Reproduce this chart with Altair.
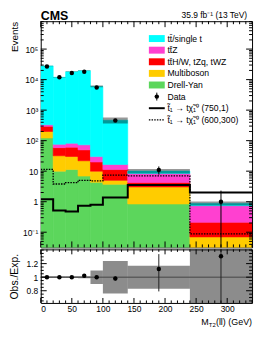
import altair as alt
import pandas as pd

# ---------------- data ----------------
bin_lo = [0, 20, 40, 60, 80, 100, 140, 240]
bin_hi = [20, 40, 60, 80, 100, 140, 240, 340]
bin_mid = [10, 30, 50, 70, 90, 120, 190, 290]

process_names = ["tt̄/single t", "tt̄Z", "tt̄H/W, tZq, tWZ", "Multiboson", "Drell-Yan"]
process_colors = ["#00FFFF", "#FF40D0", "#FF0000", "#FFCC00", "#5CD65C"]

ttbar = [27700, 11900, 17900, 19400, 5970, 450, 1.7, 0.14]
ttz = [39, 17, 21, 23, 10, 5.2, 4.1, 0.53]
ttx = [94, 27, 31, 28, 10, 6.3, 1.2, 0.14]
multiboson = [78, 22, 19, 15, 5.7, 1.3, 2.2, 0.05]
drellyan = [122, 10, 11.3, 6.9, 4.3, 3.7, 0.84, 0.02]

data_obs = [27000, 12000, 16500, 18000, 5500, 460, 11, 1.0]
data_lo = [26800, 11900, 16400, 17900, 5430, 440, 7.7, 0.001]
data_hi = [27200, 12100, 16600, 18100, 5570, 480, 14.3, 2.3]

sig_750_1 = [1.2, 0.51, 0.48, 0.74, 0.8, 1.38, 3.5, 2.0]
sig_600_300 = [11.4, 3.8, 4.2, 5.0, 4.8, 7.4, 7.0, 0.088]

unc_upper = [0.02, 0.02, 0.02, 0.02, 0.06, 0.22, 0.17, 0.15]

ratio = [1.0, 1.0, 1.0, 1.02, 1.0, 0.98, 1.12, 1.31]
ratio_lo = [0.995, 0.995, 0.995, 1.015, 0.99, 0.95, 0.79, 0.3]
ratio_hi = [1.005, 1.005, 1.005, 1.025, 1.01, 1.01, 1.34, 2.0]
ratio_unc = [0.012, 0.012, 0.012, 0.015, 0.1, 0.24, 0.17, 0.5]

legend_labels = process_names + ["Data", "t̃₁ → tχ̃₁⁰ (750,1)", "t̃₁ → tχ̃₁⁰ (600,300)"]
y_major = [0.1, 1, 10, 100, 1000, 10000, 100000]
y_major_labels = ["10⁻¹", "1", "10", "10²", "10³", "10⁴", "10⁵"]
x_major = [0, 50, 100, 150, 200, 250, 300]
r_major = [0.8, 1.0, 1.2]

# ---------------- layout constants ----------------
W = 213
H1 = 228
H2 = 54
FONT = "Liberation Sans"
Y_DOMAIN = [0.0318, 8.2e5]
R_DOMAIN = [0.62, 1.41]
X_DOMAIN = [0, 340]

y_minor = [m * 10 ** k for k in range(-2, 6) for m in range(2, 10)
           if Y_DOMAIN[0] <= m * 10 ** k <= Y_DOMAIN[1]]
x_minor = [v for v in range(0, 341, 10) if v not in x_major]
r_minor = [round(0.65 + 0.05 * i, 2) for i in range(16)]
r_minor = [v for v in r_minor if v not in r_major]

xs = alt.Scale(domain=X_DOMAIN, nice=False, zero=False)
ys = alt.Scale(type="log", domain=Y_DOMAIN, nice=False)
rs = alt.Scale(domain=R_DOMAIN, nice=False, zero=False)

# ---------------- tables ----------------
stack_rows = []
bottom_first = [(process_names[4], drellyan), (process_names[3], multiboson),
                (process_names[2], ttx), (process_names[1], ttz), (process_names[0], ttbar)]
cum = [0.0] * len(bin_lo)
for name, vals in bottom_first:
    for i in range(len(bin_lo)):
        y0 = cum[i] if cum[i] > 0 else 1e-4
        y1 = cum[i] + vals[i]
        stack_rows.append(dict(process=name, lo=bin_lo[i], hi=bin_hi[i], y0=y0, y1=y1))
        cum[i] = y1
stack_df = pd.DataFrame(stack_rows)
total = cum

bins_df = pd.DataFrame(dict(
    lo=bin_lo, hi=bin_hi, mid=bin_mid, obs=data_obs, obs_lo=data_lo, obs_hi=data_hi,
    tot=total,
    tot_dn=[t * (1 - u) for t, u in zip(total, unc_upper)],
    tot_up=[t * (1 + u) for t, u in zip(total, unc_upper)],
    ratio=ratio, r_lo=ratio_lo, r_hi=ratio_hi,
    band_dn=[1 - u for u in ratio_unc], band_up=[1 + u for u in ratio_unc],
))

step_df = pd.DataFrame(dict(
    x=bin_lo + [bin_hi[-1]],
    s1=sig_750_1 + [sig_750_1[-1]],
    s2=sig_600_300 + [sig_600_300[-1]],
))
one = pd.DataFrame({"a": [0]})

label_expr = "[" + ",".join("'%s'" % s for s in y_major_labels) + "][round(log(datum.value)/LN10)+1]"
proc_scale = alt.Scale(domain=process_names, range=process_colors)


def x_ticks(values, scale, y0, y1):
    return alt.Chart(pd.DataFrame({"v": values})).mark_rule(color="black", strokeWidth=1).encode(
        x=alt.X("v:Q", scale=scale, axis=None), y=alt.value(y0), y2=alt.value(y1))


def y_ticks(values, scale, x0, x1):
    return alt.Chart(pd.DataFrame({"v": values})).mark_rule(color="black", strokeWidth=1).encode(
        y=alt.Y("v:Q", scale=scale, axis=None), x=alt.value(x0), x2=alt.value(x1))


# ---------------- upper panel ----------------
rects = alt.Chart(stack_df).mark_rect(clip=True, strokeWidth=0.6).encode(
    x=alt.X("lo:Q", scale=xs, axis=None), x2="hi:Q",
    y=alt.Y("y0:Q", scale=ys, axis=None), y2="y1:Q",
    fill=alt.Fill("process:N", scale=proc_scale, legend=None),
    stroke=alt.Stroke("process:N", scale=proc_scale, legend=None),
)
hatch = alt.Chart(bins_df).mark_rect(clip=True, color="black", opacity=0.4).encode(
    x=alt.X("lo:Q", scale=xs, axis=None), x2="hi:Q",
    y=alt.Y("tot_dn:Q", scale=ys, axis=None), y2="tot_up:Q",
)
sig1 = alt.Chart(step_df).mark_line(interpolate="step-after", clip=True, color="black", strokeWidth=2).encode(
    x=alt.X("x:Q", scale=xs, axis=None), y=alt.Y("s1:Q", scale=ys, axis=None))
sig2 = alt.Chart(step_df).mark_line(interpolate="step-after", clip=True, color="black", strokeWidth=1.3,
                                    strokeDash=[1.5, 1.2]).encode(
    x=alt.X("x:Q", scale=xs, axis=None), y=alt.Y("s2:Q", scale=ys, axis=None))
errs = alt.Chart(bins_df).mark_rule(clip=True, color="black", strokeWidth=1).encode(
    x=alt.X("mid:Q", scale=xs, axis=None),
    y=alt.Y("obs_lo:Q", scale=ys, axis=None), y2="obs_hi:Q")
pts = alt.Chart(bins_df).mark_circle(clip=True, color="black", opacity=1, size=20).encode(
    x=alt.X("mid:Q", scale=xs, axis=None),
    y=alt.Y("obs:Q", scale=ys, axis=alt.Axis(
        orient="left", values=y_major, labelExpr=label_expr, labelPadding=3, ticks=False, domain=False,
        grid=False, title="Events", titleAngle=270, titleX=-21, titleY=0, titleAlign="right",
        titleBaseline="bottom", titleFontSize=10)))

up_ticks = [
    x_ticks(x_major, xs, 0, 6), x_ticks(x_minor, xs, 0, 3),
    x_ticks(x_major, xs, H1 - 6, H1), x_ticks(x_minor, xs, H1 - 3, H1),
    y_ticks(y_major, ys, 0, 6), y_ticks(y_minor, ys, 0, 3),
    y_ticks(y_major, ys, W - 6, W), y_ticks(y_minor, ys, W - 3, W),
]

# legend
L_X0, L_X1, L_TX = 109, 125, 127.7
L_Y0, L_STEP = 17.5, 11.7
leg = []
for i, lab in enumerate(legend_labels):
    yc = L_Y0 + i * L_STEP
    if i < len(process_names):
        leg.append(alt.Chart(one).mark_rect(color=process_colors[i]).encode(
            x=alt.value(L_X0), x2=alt.value(L_X1), y=alt.value(yc - 3.5), y2=alt.value(yc + 3.5)))
    elif i == len(process_names):
        xc = (L_X0 + L_X1) / 2
        leg.append(alt.Chart(one).mark_rule(color="black").encode(
            x=alt.value(xc), y=alt.value(yc - 4), y2=alt.value(yc + 4)))
        leg.append(alt.Chart(one).mark_circle(color="black", opacity=1, size=20).encode(
            x=alt.value(xc), y=alt.value(yc)))
    elif i == len(process_names) + 1:
        leg.append(alt.Chart(one).mark_rule(color="black", strokeWidth=2).encode(
            x=alt.value(L_X0), x2=alt.value(L_X1), y=alt.value(yc)))
    else:
        leg.append(alt.Chart(one).mark_rule(color="black", strokeWidth=1.3, strokeDash=[1.5, 1.2]).encode(
            x=alt.value(L_X0), x2=alt.value(L_X1), y=alt.value(yc)))
    leg.append(alt.Chart(one).mark_text(text=lab, align="left", baseline="middle", font=FONT,
                                        fontSize=8.7, color="black").encode(
        x=alt.value(L_TX), y=alt.value(yc)))

cms = alt.Chart(one).mark_text(text="CMS", align="left", baseline="alphabetic", font=FONT,
                               fontSize=12.5, fontWeight="bold", color="black").encode(
    x=alt.value(0), y=alt.value(-1))
lumi = alt.Chart(one).mark_text(text="35.9 fb⁻¹ (13 TeV)", align="right", baseline="alphabetic",
                                font=FONT, fontSize=8.5, color="black").encode(
    x=alt.value(208), y=alt.value(-3.5))

upper = alt.layer(rects, hatch, sig2, sig1, errs, pts, *up_ticks, *leg, cms, lumi).resolve_axis(
    x="independent", y="independent").properties(width=W, height=H1)

# ---------------- ratio panel ----------------
band = alt.Chart(bins_df).mark_rect(clip=True, color="black", opacity=0.45).encode(
    x=alt.X("lo:Q", scale=xs, axis=None), x2="hi:Q",
    y=alt.Y("band_dn:Q", scale=rs, axis=None), y2="band_up:Q")
unity = alt.Chart(pd.DataFrame({"v": [1.0]})).mark_rule(color="#444444", strokeWidth=1).encode(
    x=alt.value(0), x2=alt.value(W), y=alt.Y("v:Q", scale=rs, axis=None))
rerr = alt.Chart(bins_df).mark_rule(clip=True, color="#222222", strokeWidth=1).encode(
    x=alt.X("mid:Q", scale=xs, axis=None),
    y=alt.Y("r_lo:Q", scale=rs, axis=None), y2="r_hi:Q")
rpts = alt.Chart(bins_df).mark_circle(clip=True, color="black", opacity=1, size=20).encode(
    x=alt.X("mid:Q", scale=xs, axis=alt.Axis(orient="bottom", values=x_major, labelPadding=2, ticks=False,
                                             domain=False, grid=False, title=None)),
    y=alt.Y("ratio:Q", scale=rs, axis=alt.Axis(
        orient="left", values=r_major, format="~g", labelPadding=3, ticks=False, domain=False, grid=False,
        title="Obs./Exp.", titleAngle=270, titleX=-21, titleY=H2 / 2, titleAlign="center",
        titleBaseline="bottom", titleFontSize=10.5)))

lo_ticks = [
    x_ticks(x_major, xs, 0, 5), x_ticks(x_minor, xs, 0, 2.5),
    x_ticks(x_major, xs, H2 - 5, H2), x_ticks(x_minor, xs, H2 - 2.5, H2),
    y_ticks(r_major, rs, 0, 6), y_ticks(r_minor, rs, 0, 3),
    y_ticks(r_major, rs, W - 6, W), y_ticks(r_minor, rs, W - 3, W),
]

xt_base = H2 + 22
xt1 = alt.Chart(one).mark_text(text="(ll) (GeV)", align="right", baseline="alphabetic", font=FONT,
                               fontSize=9, color="black").encode(x=alt.value(W), y=alt.value(xt_base))
xt2 = alt.Chart(one).mark_text(text="T2", align="right", baseline="alphabetic", font=FONT,
                               fontSize=6, color="black").encode(x=alt.value(W - 36.6), y=alt.value(xt_base + 2))
xt3 = alt.Chart(one).mark_text(text="M", align="right", baseline="alphabetic", font=FONT,
                               fontSize=9, color="black").encode(x=alt.value(W - 43.6), y=alt.value(xt_base))

lower = alt.layer(band, unity, rerr, rpts, *lo_ticks, xt1, xt2, xt3).resolve_axis(
    x="independent", y="independent").properties(width=W, height=H2)

chart = alt.vconcat(upper, lower, spacing=0).properties(
    padding={"left": 1, "top": 0, "right": 5, "bottom": 5}
).configure_view(stroke="black", strokeWidth=1).configure_axis(
    labelFont=FONT, labelFontSize=8.5, labelColor="black",
    titleFont=FONT, titleFontWeight="normal", titleColor="black", domain=False, grid=False,
)

chart.save("out.html", embed_options={"renderer": "svg", "actions": False})
